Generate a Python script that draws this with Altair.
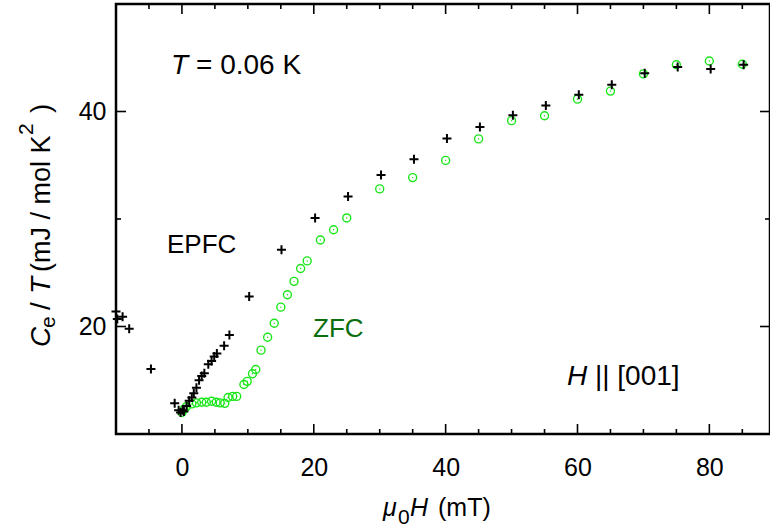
import altair as alt
import pandas as pd

# ---- data ----
epfc_h = [-10.0, -9.8, -9.0, -8.0, -4.7, -1.1, -0.5, -0.2, 0.1, 0.3, 0.7, 1.1, 1.5, 1.8,
          2.2, 2.6, 3.0, 3.4, 4.0, 4.5, 4.9, 5.3, 6.4, 7.2, 10.2, 15.1, 20.2, 25.2, 30.2,
          35.2, 40.2, 45.2, 50.2, 55.2, 60.2, 65.2, 70.2, 75.2, 80.2, 85.2]
epfc_c = [21.4, 20.7, 20.9, 19.8, 16.05, 12.85, 12.2, 12.0, 12.2, 12.1, 12.6, 13.1, 13.4, 13.8,
          14.3, 15.0, 15.4, 15.65, 16.5, 16.8, 17.2, 17.5, 18.2, 19.2, 22.8, 27.15, 30.1, 32.1, 34.1,
          35.55, 37.5, 38.55, 39.65, 40.55, 41.55, 42.5, 43.55, 44.15, 43.95, 44.35]

zfc_h = [0.0, 0.3, 0.7, 1.5, 2.2, 3.0, 3.7, 4.5, 5.2, 5.8, 6.5, 7.0, 7.7, 8.3, 9.4, 9.9,
         10.7, 11.2, 12.0, 13.0, 14.0, 15.0, 16.0, 17.0, 18.0, 19.0, 21.0, 23.0, 25.0, 30.0,
         35.0, 40.0, 45.0, 50.0, 55.0, 60.0, 65.0, 70.0, 75.0, 80.0, 85.0]
zfc_c = [12.0, 12.3, 12.55, 12.8, 12.9, 12.95, 12.95, 13.05, 12.95, 12.9, 12.85, 13.4, 13.5, 13.5, 14.6, 14.9,
         15.6, 16.0, 17.8, 19.0, 20.3, 21.8, 22.95, 24.2, 25.4, 26.1, 28.05, 29.0, 30.1, 32.8,
         33.85, 35.45, 37.45, 39.15, 39.6, 41.15, 41.9, 43.5, 44.35, 44.7, 44.4]

x_major = [0, 20, 40, 60, 80]
x_minor = [-5, 5, 10, 15, 25, 30, 35, 45, 50, 55, 65, 70, 75, 85]
y_major = [20, 40]
y_minor = [30]

# ---- styling ----
W, H = 654, 430
FONT = "Liberation Sans"
GREEN = "#19e619"
DARKGREEN = "#0b6e0b"

xs = alt.Scale(domain=[-10, 89.2], nice=False, zero=False)
ys = alt.Scale(domain=[10, 50], nice=False, zero=False)

x_axis = alt.Axis(values=x_major, title="", labelPadding=21)
y_axis = alt.Axis(values=y_major, title="", labelPadding=10)

X = alt.X("h:Q", scale=xs, axis=x_axis)
Y = alt.Y("c:Q", scale=ys, axis=y_axis)

zfc = pd.DataFrame({"h": zfc_h, "c": zfc_c})
epfc = pd.DataFrame({"h": epfc_h, "c": epfc_c})

circles = alt.Chart(zfc).mark_point(shape="circle", filled=False, size=64,
                                    color=GREEN, strokeWidth=1.4, opacity=1).encode(x=X, y=Y)
dots = alt.Chart(zfc).mark_point(shape="circle", filled=True, size=2,
                                 color=GREEN, opacity=1).encode(x=X, y=Y)
plus = alt.Chart(epfc).mark_point(shape="M-1,0L1,0M0,-1L0,1", filled=False, size=81,
                                  color="black", strokeWidth=2, opacity=1).encode(x=X, y=Y)

def xticks(vals, length):
    d = pd.DataFrame({"h": vals})
    b = alt.Chart(d).mark_rule(color="black", strokeWidth=1.6).encode(
        x=X, y=alt.value(H), y2=alt.value(H - length))
    t = alt.Chart(d).mark_rule(color="black", strokeWidth=1.6).encode(
        x=X, y=alt.value(0), y2=alt.value(length))
    return [b, t]

def yticks(vals, length):
    d = pd.DataFrame({"c": vals})
    l = alt.Chart(d).mark_rule(color="black", strokeWidth=1.6).encode(
        y=Y, x=alt.value(0), x2=alt.value(length))
    r = alt.Chart(d).mark_rule(color="black", strokeWidth=1.6).encode(
        y=Y, x=alt.value(W), x2=alt.value(W - length))
    return [l, r]

one = pd.DataFrame({"a": [0]})

def label(txt, px, py, size=27, color="black", style="normal", angle=0):
    return alt.Chart(one).mark_text(text=txt, align="left", baseline="alphabetic",
                                    font=FONT, fontSize=size, color=color, angle=angle,
                                    fontStyle=style).encode(x=alt.value(px), y=alt.value(py))

texts = [
    # annotations
    label("T", 55, 70, size=28, style="italic"),
    label("= 0.06 K", 80, 70, size=28),
    label("EPFC", 51, 249, size=26),
    label("ZFC", 197, 333, size=26, color=DARKGREEN),
    label("H", 451, 381, size=28, style="italic"),
    label("|| [001]", 479, 381, size=28),
    # x axis title: mu_0 H (mT)
    label("μ", 267, 511.5, size=25, style="italic"),
    label("0", 282, 519.5, size=21),
    label("H", 294, 511.5, size=25, style="italic"),
    label("(mT)", 322, 511.5, size=25),
    # y axis title: C_e / T (mJ / mol K^2), rotated
    label("C", -66, 343, size=28, style="italic", angle=270),
    label("e", -61, 324, size=21, angle=270),
    label("/", -66, 306, size=28, angle=270),
    label("T", -66, 290, size=28, style="italic", angle=270),
    label("(mJ / mol K", -66, 268, size=27, angle=270),
    label("2", -83, 131, size=21, angle=270),
    label(")", -66, 109, size=28, angle=270),
]

layers = (xticks(x_major, 10) + xticks(x_minor, 5) + yticks(y_major, 10) + yticks(y_minor, 5)
          + [circles, dots, plus] + texts)

chart = alt.layer(*layers).properties(
    width=W, height=H,
    autosize=alt.AutoSizeParams(type="none"),
    padding={"left": 116, "top": 4, "right": 0, "bottom": 95},
).configure_view(
    stroke="black", strokeWidth=2.5
).configure_axis(
    grid=False, ticks=False, tickSize=0, domain=False,
    labelFont=FONT, labelFontSize=25, labelColor="black",
    titleFont=FONT, titleFontSize=25, titleColor="black", titleFontWeight="normal",
)

chart.save("out.html", embed_options={"renderer": "svg", "actions": False})
